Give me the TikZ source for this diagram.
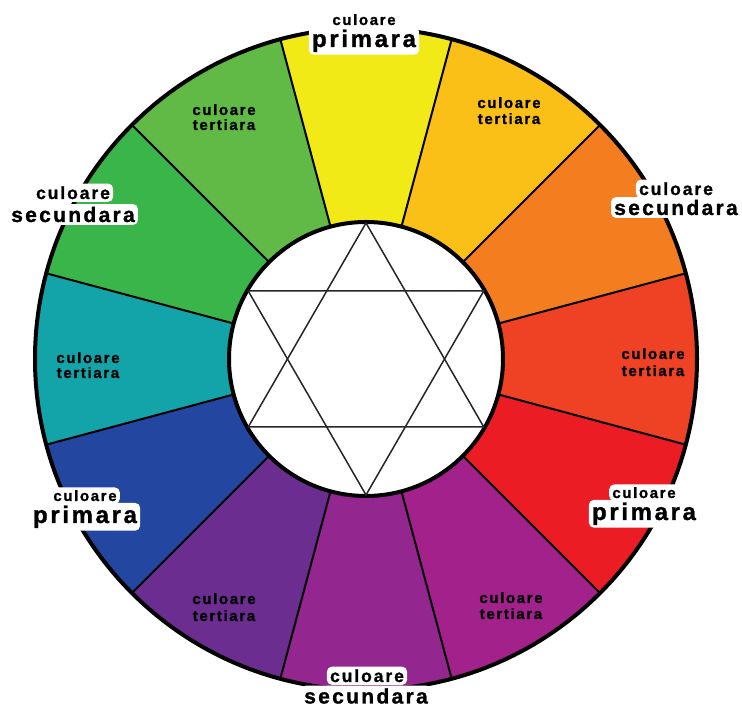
\documentclass[tikz,border=0pt]{standalone}
\usepackage{fontspec}
\newfontfamily\lblfont[LetterSpace=11, FakeBold=1.2]{Liberation Sans}
\definecolor{cYel}{HTML}{F2EA17}
\definecolor{cYO}{HTML}{FBC018}
\definecolor{cOr}{HTML}{F47D20}
\definecolor{cRO}{HTML}{EF4123}
\definecolor{cRed}{HTML}{EC1C24}
\definecolor{cRV}{HTML}{A2218A}
\definecolor{cVio}{HTML}{93278F}
\definecolor{cBV}{HTML}{6B2D90}
\definecolor{cBlu}{HTML}{2346A0}
\definecolor{cTeal}{HTML}{12A4A8}
\definecolor{cGrn}{HTML}{3AB54A}
\definecolor{cYG}{HTML}{61BA46}
\pgfdeclarelayer{mid}
\pgfdeclarelayer{front}
\pgfsetlayers{main,mid,front}
\tikzset{
  lbl/.style={inner sep=0pt, anchor=base, text=black, font=\lblfont\bfseries},
  small/.style={lbl, font=\lblfont\bfseries\fontsize{15}{15}\selectfont},
  smallsec/.style={lbl, font=\lblfont\bfseries\fontsize{17.5}{17.5}\selectfont},
  bigprim/.style={lbl, font=\lblfont\bfseries\fontsize{24}{24}\selectfont},
  bigsec/.style={lbl, font=\lblfont\bfseries\fontsize{21}{21}\selectfont},
  haloed/.style={inner xsep=3pt, inner ysep=2.5pt},
  halobox/.style={fill=white, rounded corners=5pt},
  divider/.style={line width=2pt, black},
  rim/.style={line width=4pt, black},
  star/.style={line width=1.5pt, black!85, line join=miter}
}
\begin{document}
\begin{tikzpicture}[x=1pt,y=1pt]
\useasboundingbox (0,0) rectangle (742,708);
\coordinate (C) at (366,349);
\def\Ro{331}
\def\Ri{137}
% sectors
\foreach \a/\c in {90/cYel,60/cYO,30/cOr,0/cRO,-30/cRed,-60/cRV,-90/cVio,-120/cBV,-150/cBlu,180/cTeal,150/cGrn,120/cYG}{
  \fill[\c] (C) -- ++(\a-15:\Ro) arc[start angle=\a-15, end angle=\a+15, radius=\Ro] -- cycle;
}
% dividers
\foreach \a in {15,45,...,345}{
  \draw[divider] (C) -- ++(\a:\Ro);
}
% outer rim
\draw[rim] (C) circle[radius=\Ro];
% inner circle
\draw[rim, fill=white] (C) circle[radius=\Ri];
% hexagram
\begin{scope}[shift={(C)}]
  \draw[star] (90:136) -- (210:136) -- (330:136) -- cycle;
  \draw[star] (270:136) -- (30:136) -- (150:136) -- cycle;
\end{scope}
\begin{pgfonlayer}{front}
% primary labels
\node[small, haloed] (p1a) at (364,683) {culoare};
\node[bigprim, haloed] (p1b) at (364,661) {primara};
\node[small, haloed] (p2a) at (85,207) {culoare};
\node[bigprim, haloed] (p2b) at (85,185) {primara};
\node[small, haloed] (p3a) at (644,210) {culoare};
\node[bigprim, haloed] (p3b) at (644,188) {primara};
% secondary labels
\node[smallsec, haloed] (s1a) at (73,509) {culoare};
\node[bigsec, haloed] (s1b) at (73,486) {secundara};
\node[smallsec, haloed] (s2a) at (676,513) {culoare};
\node[bigsec, haloed] (s2b) at (676,493) {secundara};
\node[smallsec, haloed] (s3a) at (367,26) {culoare};
\node[bigsec, haloed] (s3b) at (366,4.5) {secundara};
% tertiary labels
\node[small] (t1a) at (224,593) {culoare};
\node[small] (t1b) at (224,578) {tertiara};
\node[small] (t2a) at (509,600) {culoare};
\node[small] (t2b) at (509,584) {tertiara};
\node[small] (t3a) at (653,349) {culoare};
\node[small] (t3b) at (653,332) {tertiara};
\node[small] (t4a) at (511,105) {culoare};
\node[small] (t4b) at (511,89) {tertiara};
\node[small] (t5a) at (224,104) {culoare};
\node[small] (t5b) at (224,87) {tertiara};
\node[small] (t6a) at (88,345) {culoare};
\node[small] (t6b) at (88,330) {tertiara};
\end{pgfonlayer}
% white halos behind the rim labels
\begin{pgfonlayer}{mid}
\foreach \n in {p1a,p1b,p2a,p2b,p3a,p3b,s1a,s1b,s2a,s2b,s3a,s3b}{
  \fill[halobox] (\n.south west) rectangle (\n.north east);
}
\end{pgfonlayer}
\end{tikzpicture}
\end{document}
